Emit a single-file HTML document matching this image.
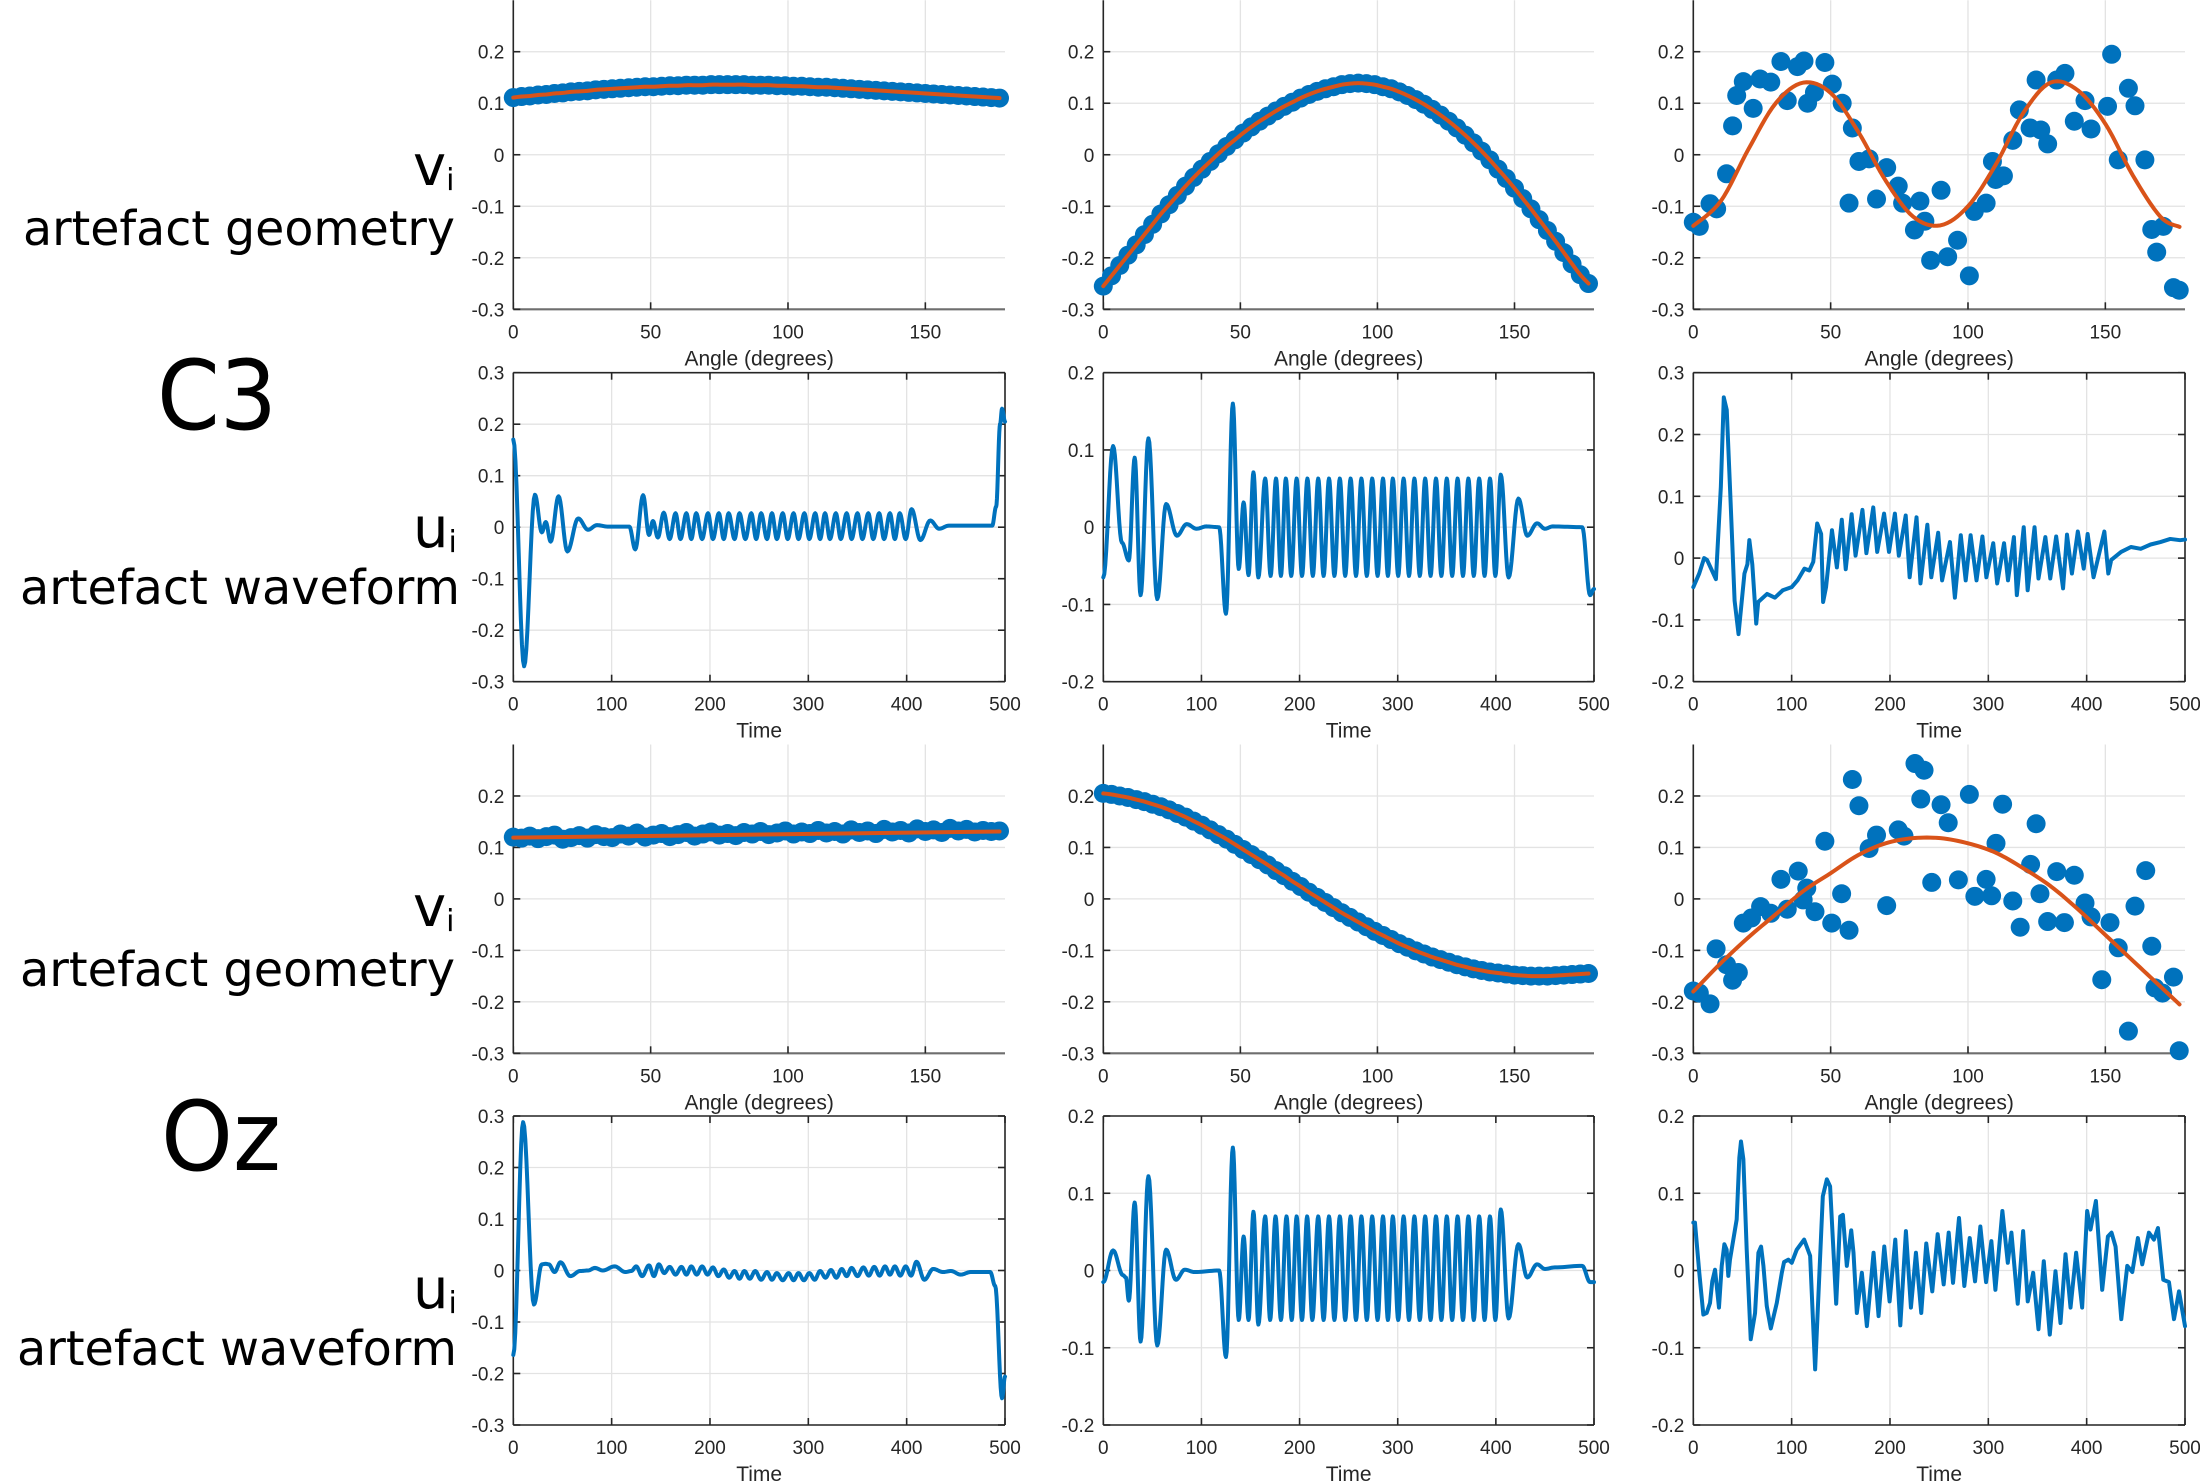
<!DOCTYPE html>
<html><head><meta charset="utf-8"><title>Artefact geometry and waveform</title>
<style>
html,body{margin:0;padding:0;background:#fff;}
svg{display:block;}
.lbl{font-family:"DejaVu Sans","Liberation Sans",sans-serif;fill:#000;}
.tick{font-family:"Liberation Sans",Arial,sans-serif;font-size:19px;fill:#262626;}
.axl{font-family:"Liberation Sans",Arial,sans-serif;font-size:21px;fill:#262626;}
</style></head>
<body>
<svg id="fig" width="2200" height="1483" viewBox="0 0 2200 1483" xmlns="http://www.w3.org/2000/svg">
<rect x="0" y="0" width="2200" height="1483" fill="#fff"/>
<g>
<text class="lbl" x="413" y="185" font-size="56">v<tspan font-size="30" dy="5">i</tspan></text>
<text class="lbl" x="23" y="245" font-size="48" textLength="432" lengthAdjust="spacingAndGlyphs">artefact geometry</text>
<text class="lbl" x="157" y="429" font-size="96" textLength="120" lengthAdjust="spacingAndGlyphs">C3</text>
<text class="lbl" x="413" y="547" font-size="56">u<tspan font-size="30" dy="5">i</tspan></text>
<text class="lbl" x="20" y="604" font-size="48" textLength="440" lengthAdjust="spacingAndGlyphs">artefact waveform</text>
</g>
<g>
<text class="lbl" x="413" y="926" font-size="56">v<tspan font-size="30" dy="5">i</tspan></text>
<text class="lbl" x="20" y="986" font-size="48" textLength="435" lengthAdjust="spacingAndGlyphs">artefact geometry</text>
<text class="lbl" x="161" y="1170" font-size="96" textLength="120" lengthAdjust="spacingAndGlyphs">Oz</text>
<text class="lbl" x="413" y="1308" font-size="56">u<tspan font-size="30" dy="5">i</tspan></text>
<text class="lbl" x="17" y="1365" font-size="48" textLength="440" lengthAdjust="spacingAndGlyphs">artefact waveform</text>
</g>
</svg>
<script>
// ---------- DATA ----------
const denseAngles = [0,3,6,9,12,15,18,21,24,27,30,33,36,39,42,45,48,51,54,57,60,63,66,69,72,75,78,81,84,87,90,93,96,99,102,105,108,111,114,117,120,123,126,129,132,135,138,141,144,147,150,153,156,159,162,165,168,171,174,177];
const c3GeoA = [0.111,0.113,0.114,0.116,0.117,0.119,0.120,0.122,0.123,0.124,0.126,0.127,0.128,0.129,0.130,0.131,0.132,0.132,0.133,0.134,0.134,0.135,0.135,0.135,0.136,0.136,0.136,0.136,0.136,0.135,0.135,0.135,0.134,0.134,0.133,0.133,0.132,0.131,0.131,0.130,0.129,0.128,0.127,0.126,0.125,0.124,0.123,0.122,0.121,0.120,0.119,0.118,0.117,0.116,0.115,0.114,0.113,0.112,0.111,0.110];
const c3GeoB = [-0.255,-0.235,-0.215,-0.195,-0.175,-0.155,-0.135,-0.115,-0.097,-0.079,-0.061,-0.044,-0.028,-0.013,0.002,0.016,0.029,0.042,0.054,0.065,0.075,0.085,0.094,0.102,0.110,0.117,0.123,0.128,0.132,0.136,0.138,0.139,0.138,0.136,0.132,0.128,0.122,0.115,0.107,0.098,0.088,0.077,0.065,0.052,0.038,0.023,0.007,-0.010,-0.028,-0.046,-0.065,-0.085,-0.105,-0.126,-0.147,-0.168,-0.190,-0.212,-0.233,-0.250];
const ozGeoA = [0.120,0.118,0.122,0.117,0.121,0.124,0.116,0.119,0.123,0.118,0.125,0.121,0.119,0.126,0.122,0.128,0.120,0.124,0.127,0.121,0.125,0.129,0.122,0.126,0.130,0.124,0.127,0.123,0.129,0.126,0.131,0.125,0.128,0.132,0.126,0.130,0.127,0.133,0.128,0.131,0.126,0.134,0.129,0.132,0.127,0.135,0.130,0.133,0.128,0.136,0.131,0.134,0.129,0.137,0.132,0.135,0.130,0.133,0.131,0.132];
const ozGeoAFitAngles = [0,60,120,177];
const ozGeoAFit = [0.119,0.123,0.127,0.131];
const ozGeoB = [0.205,0.203,0.200,0.197,0.193,0.189,0.184,0.179,0.173,0.166,0.159,0.151,0.143,0.134,0.125,0.116,0.106,0.096,0.086,0.076,0.066,0.055,0.045,0.034,0.024,0.013,0.003,-0.007,-0.017,-0.027,-0.036,-0.045,-0.054,-0.063,-0.071,-0.079,-0.087,-0.094,-0.101,-0.107,-0.113,-0.118,-0.123,-0.128,-0.132,-0.136,-0.139,-0.142,-0.144,-0.146,-0.148,-0.149,-0.150,-0.150,-0.150,-0.149,-0.148,-0.147,-0.146,-0.145];

const c3GeoCAngles = [0,2.2,6.1,8.5,12.1,14.3,15.8,18.2,21.8,24.3,28.2,31.9,34.2,37.9,40.3,41.6,44.1,47.9,50.6,54.2,57.9,60.3,64.0,56.7,66.7,70.4,74.6,76.2,82.5,80.5,84.3,86.4,90.2,92.6,96.2,100.5,102.3,106.6,108.9,110.1,112.9,116.3,118.7,122.6,124.8,126.5,129.0,132.3,135.3,138.7,142.6,144.8,150.8,152.3,154.7,158.4,160.8,164.4,166.9,168.7,171.1,174.8,176.9];
const c3GeoC = [-0.131,-0.139,-0.095,-0.105,-0.037,0.056,0.115,0.142,0.090,0.147,0.141,0.181,0.105,0.171,0.182,0.100,0.121,0.179,0.137,0.100,0.052,-0.013,-0.008,-0.094,-0.086,-0.025,-0.061,-0.094,-0.090,-0.146,-0.129,-0.205,-0.069,-0.198,-0.166,-0.235,-0.110,-0.094,-0.013,-0.048,-0.041,0.028,0.087,0.052,0.145,0.048,0.021,0.145,0.158,0.065,0.105,0.050,0.094,0.195,-0.010,0.129,0.095,-0.010,-0.145,-0.189,-0.139,-0.258,-0.263];
const fitAngles = [0,10,20,30,40,50,60,70,80,90,100,110,120,130,140,150,160,170,177];
const c3GeoCFit = [-0.138,-0.09,0.01,0.10,0.140,0.12,0.045,-0.05,-0.12,-0.137,-0.10,-0.02,0.08,0.140,0.125,0.06,-0.04,-0.12,-0.14];

const ozGeoCAngles = [0,2.2,6.1,8.3,12.1,16.4,14.3,18.2,21.2,24.5,28.2,31.9,34.2,38.2,41.3,40.0,44.3,47.9,50.4,54.0,56.7,57.9,60.3,64.0,66.7,70.4,74.6,76.7,80.7,84.0,82.8,86.8,90.2,92.8,96.5,100.5,102.5,106.6,108.6,110.2,112.6,116.3,119.0,122.8,124.8,126.2,129.0,132.3,135.1,138.7,142.6,144.8,148.7,151.7,154.7,158.4,160.8,164.7,166.9,168.1,170.8,174.8,176.9];
const ozGeoC = [-0.179,-0.183,-0.204,-0.097,-0.128,-0.143,-0.158,-0.047,-0.037,-0.015,-0.028,0.038,-0.020,0.054,0.021,-0.002,-0.025,0.112,-0.047,0.010,-0.061,0.232,0.181,0.098,0.124,-0.013,0.134,0.122,0.263,0.250,0.194,0.032,0.183,0.148,0.037,0.203,0.005,0.038,0.006,0.108,0.184,-0.004,-0.055,0.067,0.146,0.010,-0.044,0.053,-0.046,0.046,-0.008,-0.035,-0.157,-0.046,-0.095,-0.257,-0.014,0.055,-0.092,-0.173,-0.183,-0.152,-0.295];
const ozGeoCFit = [-0.18,-0.125,-0.075,-0.03,0.015,0.05,0.085,0.108,0.118,0.118,0.108,0.09,0.06,0.025,-0.02,-0.07,-0.12,-0.17,-0.205];

const c3WaveATimes = [0,11,22,29,33,38,46,55,66,76,85,97,118,124,132,138,142,147,153,159,165,170,176,181,186,192,198,203,209,214,219,225,230,236,242,247,252,258,263,268,274,279,285,290,296,301,307,312,317,322,328,333,339,344,350,355,361,366,372,377,383,388,393,399,405,414,424,433,443,487,491,495,497,500];
const c3WaveA = [0.17,-0.27,0.063,-0.01,0.01,-0.028,0.06,-0.047,0.017,-0.005,0.004,0.001,0.001,-0.043,0.062,-0.015,0.012,-0.02,0.028,-0.023,0.027,-0.023,0.027,-0.023,0.027,-0.023,0.027,-0.023,0.027,-0.023,0.027,-0.023,0.027,-0.023,0.027,-0.023,0.027,-0.023,0.027,-0.023,0.027,-0.023,0.027,-0.023,0.027,-0.023,0.027,-0.023,0.027,-0.023,0.027,-0.023,0.027,-0.023,0.027,-0.023,0.027,-0.023,0.027,-0.023,0.027,-0.023,0.027,-0.023,0.035,-0.025,0.013,-0.003,0.003,0.003,0.04,0.2,0.23,0.205];

const c3WaveBTimes = [0,10,19,26,32,38,46,55,64,75,85,95,105,118,125,132,138,143,148,153,158,165,170.5,176,181,186,191.5,197,202.5,208,213.5,219,224.5,230,235.5,241,246.5,252,257.5,263,268.5,274,279.5,285,290,295,300.5,306,311.5,317,322.5,328,333.5,339,344.5,350,355.5,361,366.5,372,377.5,383,388.5,394,399.5,405,413,423,432,442,450,458,488,496,500];
const c3WaveB = [-0.065,0.105,-0.02,-0.043,0.09,-0.088,0.115,-0.093,0.03,-0.011,0.004,-0.002,0.001,0,-0.112,0.16,-0.054,0.032,-0.062,0.071,-0.065,0.063,-0.063,0.063,-0.063,0.063,-0.063,0.063,-0.063,0.063,-0.063,0.063,-0.063,0.063,-0.063,0.063,-0.063,0.063,-0.063,0.063,-0.063,0.063,-0.063,0.063,-0.063,0.063,-0.063,0.063,-0.063,0.063,-0.063,0.063,-0.063,0.063,-0.063,0.063,-0.063,0.063,-0.063,0.063,-0.063,0.063,-0.063,0.063,-0.063,0.068,-0.065,0.037,-0.011,0.005,-0.002,0.001,0,-0.088,-0.08];

const c3WaveCTimes = [0,6,11,14,23,28,31,34,38,42,46,52,55,57,60,64,66,75,83,91,100,106,113,118,122,126,130,132,135,141,146,151,155,161,165,172,176,183,187,194,199,205,209,216,220,227,231,238,242,249,253,261,266,272,277,282,288,294,298,305,309,316,320,326,329,336,340,347,351,358,363,369,376,380,385,391,397,401,407,418,422,425,435,445,455,465,475,485,495,500];
const c3WaveC = [-0.047,-0.025,0,-0.003,-0.034,0.115,0.26,0.24,0.088,-0.069,-0.123,-0.025,-0.01,0.029,-0.01,-0.106,-0.071,-0.058,-0.064,-0.052,-0.047,-0.036,-0.017,-0.02,-0.006,0.056,0.039,-0.071,-0.047,0.045,-0.015,0.062,-0.018,0.071,0.004,0.078,0.008,0.082,0.010,0.072,0.010,0.072,0.004,0.069,-0.031,0.066,-0.041,0.054,-0.031,0.041,-0.036,0.026,-0.064,0.037,-0.036,0.037,-0.036,0.035,-0.031,0.024,-0.041,0.024,-0.036,0.034,-0.060,0.050,-0.052,0.050,-0.033,0.034,-0.033,0.035,-0.049,0.038,-0.025,0.043,-0.017,0.039,-0.031,0.043,-0.025,-0.003,0.01,0.018,0.015,0.022,0.026,0.031,0.029,0.03];

const ozWaveATimes = [0,10,21,29,33,36,42,48,58,68,76,83,91,103,114,120,125,131,138,143,148,153.5,159,165,171,176,181,186.5,192,197.5,203,208.5,214,219.5,225,230,235,240.5,246,252,258,263,268,274,280,285,290,295.5,301,306.5,312,317.5,323,328.5,334,339,344,350,356,361.5,367,372.5,378,383,388,393.5,399,404.5,410,418,427,437,445,455,465,485,490,497,500];
const ozWaveA = [-0.164,0.288,-0.066,0.012,0.013,0.012,-0.003,0.016,-0.011,-0.001,0,0.005,0,0.008,-0.003,-0.001,0.008,-0.011,0.010,-0.011,0.012,-0.005,0.007,-0.008,0.007,-0.008,0.008,-0.008,0.008,-0.008,0.006,-0.011,0.002,-0.014,-0.001,-0.016,-0.001,-0.016,-0.001,-0.018,-0.003,-0.018,-0.005,-0.019,-0.005,-0.019,-0.005,-0.019,-0.005,-0.018,-0.001,-0.014,0.001,-0.014,0.003,-0.011,0.005,-0.011,0.006,-0.010,0.007,-0.010,0.008,-0.008,0.008,-0.010,0.008,-0.010,0.017,-0.018,0.003,-0.003,-0.001,-0.008,-0.003,-0.003,-0.03,-0.248,-0.206];

const ozWaveBTimes = [0,10,20,23,26,32,38,46,55,64,74,83,93,118,125,132,138,143,148,153,158,165,170,175.5,181,186.7,192,197,202.5,207.7,213,219,224.5,230,235.5,241,246.5,252,257.5,263,268.5,274,279.5,285,290,295,300.5,306,311.5,317,322.5,328,333.5,339,344.5,350,355.5,361,366.5,372,377.5,383,388.5,394,399.5,405,413,423,432,442,450,460,488,496,500];
const ozWaveB = [-0.015,0.026,-0.006,-0.009,-0.039,0.088,-0.092,0.122,-0.097,0.027,-0.012,0.001,-0.002,0,-0.112,0.159,-0.064,0.044,-0.064,0.076,-0.07,0.07,-0.064,0.07,-0.064,0.07,-0.064,0.07,-0.064,0.07,-0.064,0.07,-0.064,0.07,-0.064,0.07,-0.064,0.07,-0.064,0.07,-0.064,0.07,-0.064,0.07,-0.064,0.07,-0.064,0.07,-0.064,0.07,-0.064,0.07,-0.064,0.07,-0.064,0.07,-0.064,0.07,-0.064,0.07,-0.064,0.07,-0.064,0.07,-0.064,0.079,-0.062,0.034,-0.009,0.008,0.002,0.004,0.006,-0.015,-0.015];

const ozWaveCTimes = [0,1.7,6.1,10.2,13.6,17,19.3,22.1,26.1,28.9,31.6,33.9,35.6,37.3,40.7,44.1,46.8,48.5,50.9,54.3,58.4,62.8,66.2,68.9,71.3,74.7,78.8,84.9,90,92.3,96.7,100.1,105.2,112.7,118.8,123.9,131.7,135.8,139.1,145.3,149.4,152.1,156.1,160.6,162.9,166.3,171.4,176.5,183.3,188.4,194.2,199.6,205.4,210.5,216.2,221.3,226.4,231.8,236.9,243,248.5,254.6,259.7,264.1,270.2,275.6,281.1,286.5,291.9,297.7,303.1,307.2,314.3,319.8,323.5,329.9,335.4,340.1,345.6,351,356.4,362.5,368.3,373.4,378.5,383.6,389.3,395.4,400.5,403.9,409.4,415.8,421.6,425.3,429.4,435.2,441.3,446.4,452.1,456.5,463.3,468.4,472.5,477.9,483.7,488.8,493.9,500];
const ozWaveC = [0.062,0.062,-0.003,-0.057,-0.055,-0.042,-0.014,0.001,-0.048,0.006,0.034,0.027,-0.007,0.014,0.040,0.066,0.146,0.167,0.144,0.027,-0.089,-0.055,0.023,0.031,0.006,-0.046,-0.075,-0.042,-0.003,0.011,0.014,0.010,0.027,0.040,0.019,-0.128,0.096,0.118,0.109,-0.043,0.070,0.072,0.006,0.052,0.023,-0.055,-0.003,-0.072,0.023,-0.059,0.031,-0.040,0.040,-0.071,0.051,-0.048,0.023,-0.055,0.035,-0.027,0.047,-0.018,0.049,-0.016,0.068,-0.020,0.042,-0.014,0.057,-0.015,0.038,-0.025,0.077,0.010,0.049,-0.043,0.051,-0.040,-0.003,-0.076,0.012,-0.083,-0.001,-0.068,0.021,-0.048,0.023,-0.048,0.077,0.053,0.090,-0.025,0.044,0.049,0.031,-0.063,0.006,-0.002,0.042,0.008,0.049,0.040,0.055,-0.012,-0.015,-0.063,-0.027,-0.072];

const angleTicks = [0,50,100,150];
const timeTicks = [0,100,200,300,400,500];
const geoYTicks = [-0.3,-0.2,-0.1,0,0.1,0.2];
const waveYTicksWide = [-0.3,-0.2,-0.1,0,0.1,0.2,0.3];
const waveYTicksNarrow = [-0.2,-0.1,0,0.1,0.2];
const waveYTicksMixed = [-0.2,-0.1,0,0.1,0.2,0.3];

// ---------- DRAWING ----------
const NS = 'http://www.w3.org/2000/svg';
const svg = document.getElementById('fig');
const BLUE = '#0072BD', ORANGE = '#D95319';
const COLS = [[513.3,1005],[1103.3,1594],[1693.3,2185]];
const ROWS = [[0.2,309.3],[372.7,681.7],[744.5,1053.3],[1116,1425]];

function mk(tag, attrs, parent){
  const e = document.createElementNS(NS, tag);
  for (const k in attrs) e.setAttribute(k, attrs[k]);
  (parent||svg).appendChild(e);
  return e;
}
function fmt(v){ const r = Math.round(v*10)/10; return (r===0?'0':String(r)); }

function makeAxes(name, col, row, xmin, xmax, ymin, ymax, xticks, yticks, box, xlabel){
  const [L,R] = COLS[col], [T,B] = ROWS[row];
  const g = mk('g', {});
  
  
  const sx = v => L + (v - xmin) / (xmax - xmin) * (R - L);
  const sy = v => B - (v - ymin) / (ymax - ymin) * (B - T);
  const grid = mk('g', {stroke:'#e3e3e3','stroke-width':1.3}, g);
  
  
  xticks.forEach(t => { mk('line', {x1:sx(t), x2:sx(t), y1:T, y2:B}, grid); });
  yticks.forEach(t => { mk('line', {x1:L, x2:R, y1:sy(t), y2:sy(t)}, grid); });
  const ax = mk('g', {stroke:'#262626','stroke-width':1.6, fill:'none'}, g);
  
  
  mk('line', {x1:L, x2:L, y1:T, y2:B}, ax);
  mk('line', {x1:L, x2:R, y1:B, y2:B, stroke: box ? '#262626' : '#6e6e6e', 'stroke-width': box ? 1.6 : 2.2}, ax);
  if (box){ mk('line', {x1:L, x2:R, y1:T, y2:T}, ax); mk('line', {x1:R, x2:R, y1:T, y2:B}, ax); }
  xticks.forEach(t => {
    mk('line', {x1:sx(t), x2:sx(t), y1:B, y2:B-7}, ax);
    if (box) mk('line', {x1:sx(t), x2:sx(t), y1:T, y2:T+7}, ax);
    const tx = mk('text', {class:'tick', x:sx(t), y:B+29, 'text-anchor':'middle'}, g);
    tx.textContent = String(t);
    
    
  });
  yticks.forEach(t => {
    mk('line', {x1:L, x2:L+7, y1:sy(t), y2:sy(t)}, ax);
    if (box) mk('line', {x1:R, x2:R-7, y1:sy(t), y2:sy(t)}, ax);
    const ty = mk('text', {class:'tick', x:L-9, y:sy(t)+7, 'text-anchor':'end'}, g);
    ty.textContent = fmt(t);
    
    
  });
  const xl = mk('text', {class:'axl', x:(L+R)/2, y:B+56, 'text-anchor':'middle'}, g);
  xl.textContent = xlabel;
  
  
  return {g, sx, sy};
}

function scatter(ax, name, xs, ys){
  const g = mk('g', {fill:BLUE}, ax.g);
  
  
  xs.forEach((x, i) => {
    const c = mk('circle', {cx:ax.sx(x), cy:ax.sy(ys[i]), r:9.5}, g);
    
    
  });
}

function smoothPts(ts, vs){
  // cosine easing between consecutive samples
  const out = [[ts[0], vs[0]]];
  for (let i = 1; i < ts.length; i++){
    const n = 10;
    for (let k = 1; k <= n; k++){
      const s = k / n, w = (1 - Math.cos(Math.PI * s)) / 2;
      out.push([ts[i-1] + (ts[i]-ts[i-1]) * s, vs[i-1] + (vs[i]-vs[i-1]) * w]);
    }
  }
  return out;
}
function catmull(ts, vs){
  const out = [];
  for (let i = 0; i < ts.length - 1; i++){
    const i0 = Math.max(0,i-1), i3 = Math.min(ts.length-1,i+2);
    for (let k = 0; k < 8; k++){
      const s = k/8, s2 = s*s, s3 = s2*s;
      const f = (p0,p1,p2,p3) => 0.5*((2*p1)+(-p0+p2)*s+(2*p0-5*p1+4*p2-p3)*s2+(-p0+3*p1-3*p2+p3)*s3);
      out.push([f(ts[i0],ts[i],ts[i+1],ts[i3]), f(vs[i0],vs[i],vs[i+1],vs[i3])]);
    }
  }
  out.push([ts[ts.length-1], vs[vs.length-1]]);
  return out;
}
function line(ax, name, pts, color, width){
  const d = pts.map((p, i) => (i ? 'L' : 'M') + ax.sx(p[0]).toFixed(2) + ' ' + ax.sy(p[1]).toFixed(2)).join('');
  const p = mk('path', {d, fill:'none', stroke:color, 'stroke-width':width, 'stroke-linejoin':'round', 'stroke-linecap':'round'}, ax.g);
  
  
}
function linear(ts, vs){ return ts.map((t, i) => [t, vs[i]]); }

// Row 1: C3 geometry
let a;
a = makeAxes('c3-geometry-plot-1', 0, 0, 0, 179, -0.3, 0.3, angleTicks, geoYTicks, false, 'Angle (degrees)');
scatter(a, 'c3-geometry-1-points', denseAngles, c3GeoA);
line(a, 'c3-geometry-1-fit', catmull(denseAngles, c3GeoA), ORANGE, 4);
a = makeAxes('c3-geometry-plot-2', 1, 0, 0, 179, -0.3, 0.3, angleTicks, geoYTicks, false, 'Angle (degrees)');
scatter(a, 'c3-geometry-2-points', denseAngles, c3GeoB);
line(a, 'c3-geometry-2-fit', catmull(denseAngles, c3GeoB), ORANGE, 4);
a = makeAxes('c3-geometry-plot-3', 2, 0, 0, 179, -0.3, 0.3, angleTicks, geoYTicks, false, 'Angle (degrees)');
scatter(a, 'c3-geometry-3-points', c3GeoCAngles, c3GeoC);
line(a, 'c3-geometry-3-fit', catmull(fitAngles, c3GeoCFit), ORANGE, 4);

// Row 2: C3 waveforms
a = makeAxes('c3-waveform-plot-1', 0, 1, 0, 500, -0.3, 0.3, timeTicks, waveYTicksWide, true, 'Time');
line(a, 'c3-waveform-1-line', smoothPts(c3WaveATimes, c3WaveA), BLUE, 4);
a = makeAxes('c3-waveform-plot-2', 1, 1, 0, 500, -0.2, 0.2, timeTicks, waveYTicksNarrow, true, 'Time');
line(a, 'c3-waveform-2-line', smoothPts(c3WaveBTimes, c3WaveB), BLUE, 4);
a = makeAxes('c3-waveform-plot-3', 2, 1, 0, 500, -0.2, 0.3, timeTicks, waveYTicksMixed, true, 'Time');
line(a, 'c3-waveform-3-line', linear(c3WaveCTimes, c3WaveC), BLUE, 4);

// Row 3: Oz geometry
a = makeAxes('oz-geometry-plot-1', 0, 2, 0, 179, -0.3, 0.3, angleTicks, geoYTicks, false, 'Angle (degrees)');
scatter(a, 'oz-geometry-1-points', denseAngles, ozGeoA);
line(a, 'oz-geometry-1-fit', linear(ozGeoAFitAngles, ozGeoAFit), ORANGE, 4);
a = makeAxes('oz-geometry-plot-2', 1, 2, 0, 179, -0.3, 0.3, angleTicks, geoYTicks, false, 'Angle (degrees)');
scatter(a, 'oz-geometry-2-points', denseAngles, ozGeoB);
line(a, 'oz-geometry-2-fit', catmull(denseAngles, ozGeoB), ORANGE, 4);
a = makeAxes('oz-geometry-plot-3', 2, 2, 0, 179, -0.3, 0.3, angleTicks, geoYTicks, false, 'Angle (degrees)');
scatter(a, 'oz-geometry-3-points', ozGeoCAngles, ozGeoC);
line(a, 'oz-geometry-3-fit', catmull(fitAngles, ozGeoCFit), ORANGE, 4);

// Row 4: Oz waveforms
a = makeAxes('oz-waveform-plot-1', 0, 3, 0, 500, -0.3, 0.3, timeTicks, waveYTicksWide, true, 'Time');
line(a, 'oz-waveform-1-line', smoothPts(ozWaveATimes, ozWaveA), BLUE, 4);
a = makeAxes('oz-waveform-plot-2', 1, 3, 0, 500, -0.2, 0.2, timeTicks, waveYTicksNarrow, true, 'Time');
line(a, 'oz-waveform-2-line', smoothPts(ozWaveBTimes, ozWaveB), BLUE, 4);
a = makeAxes('oz-waveform-plot-3', 2, 3, 0, 500, -0.2, 0.2, timeTicks, waveYTicksNarrow, true, 'Time');
line(a, 'oz-waveform-3-line', linear(ozWaveCTimes, ozWaveC), BLUE, 4);
</script>
</body></html>
